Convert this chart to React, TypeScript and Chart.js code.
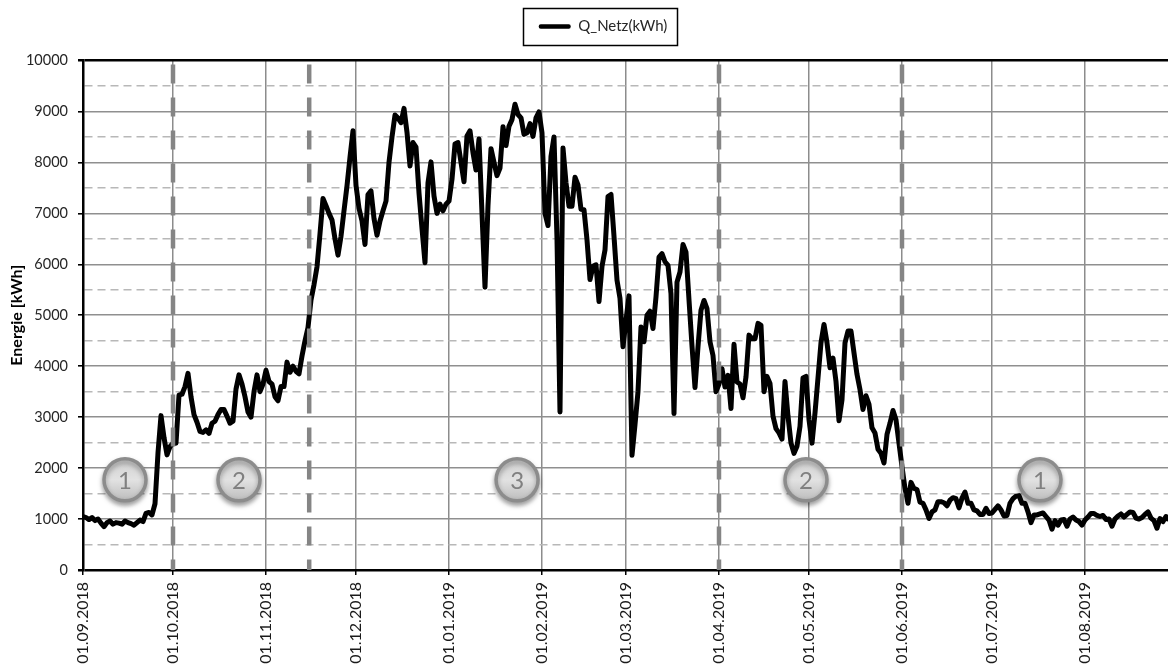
import React, { useEffect, useRef } from "react";
import { Chart, registerables } from "chart.js";

Chart.register(...registerables);

const sep = [1050,1030,990,1030,970,1000,920,850,930,960,900,930,920,900,960,930,910,880,930,980,950,1110,1130,1080,1300,2300,3030,2600,2260,2420];
const oct = [2490,2490,3430,3450,3600,3860,3400,3050,2900,2720,2700,2750,2680,2880,2920,3050,3150,3150,3020,2880,2920,3550,3830,3650,3400,3100,3000,3500,3830,3500,3650];
const nov = [3920,3700,3650,3400,3320,3600,3600,4080,3880,4000,3900,3850,4200,4500,4760,5300,5600,5950,6600,7290,7150,7000,6870,6500,6180,6550,7050,7540,8100,8620];
const dec = [7550,7100,6850,6390,7370,7440,6900,6570,6850,7050,7240,8000,8500,8930,8870,8780,9060,8590,7930,8390,8300,7400,6700,6030,7600,8010,7340,7000,7180,7050,7180];
const jan = [7240,7670,8360,8390,8000,7620,8520,8620,8190,7850,8460,7000,5550,7150,8270,8000,7740,7890,8700,8330,8710,8840,9140,8940,8875,8550,8580,8760,8510,8875,8990];
const feb = [8580,7000,6760,8120,8500,6500,3100,8285,7600,7140,7140,7710,7560,7080,7070,6480,5700,5960,5990,5270,5960,6280,7330,7370,6550,5690,5330,4380];
const mar = [4900,5380,2250,2850,3500,4770,4480,5000,5080,4740,5360,6140,6210,6050,5980,5420,3070,5650,5850,6390,6240,5300,4400,3580,4380,5100,5290,5130,4480,4210,3500];
const apr = [3650,3950,3590,3820,3170,4430,3690,3650,3380,3790,4610,4540,4540,4840,4800,3500,3800,3660,3020,2775,2690,2570,3700,3020,2490,2290,2430,2820,3770,3800];
const may = [2950,2490,3080,3770,4460,4820,4460,3970,4160,3700,2930,3340,4460,4690,4690,4260,3840,3540,3150,3420,3250,2790,2690,2370,2290,2100,2660,2880,3130,2950,2490];
const jun = [2030,1600,1310,1720,1600,1580,1330,1310,1180,1010,1140,1180,1340,1340,1320,1260,1370,1420,1400,1220,1410,1530,1310,1310,1180,1160,1090,1090,1210,1110];
const jul = [1120,1190,1260,1180,1060,1070,1310,1400,1450,1460,1310,1310,1140,930,1080,1080,1100,1120,1050,980,800,970,880,980,990,860,1000,1040,980,950,880];
const aug = [980,1040,1110,1110,1070,1050,1070,990,1000,860,1000,1060,1100,1040,1090,1140,1130,1020,1000,1030,1090,1140,1020,970,820,1010,950,1050,980];

const monthOffsets = [0, 30, 61, 91, 122, 153, 181, 212, 242, 273, 303, 334];
const monthLabels = ["01.09.2018","01.10.2018","01.11.2018","01.12.2018","01.01.2019","01.02.2019","01.03.2019","01.04.2019","01.05.2019","01.06.2019","01.07.2019","01.08.2019"];
const phaseBoundaries = [30, 75.4, 212, 273];
const badgeDays = [14, 52, 144.7, 241, 319];
const badgeValue = 1770;
const badgeTexts = ["1", "2", "3", "2", "1"];

const seriesName = "Q_Netz(kWh)";
const yTitle = "Energie [kWh]";
const FONT = "Lato";

export default function App() {
  const ref = useRef<HTMLCanvasElement>(null);

  useEffect(() => {
    document.body.style.margin = "0";
    const values = [...sep, ...oct, ...nov, ...dec, ...jan, ...feb, ...mar, ...apr, ...may, ...jun, ...jul, ...aug];
    const BADGE_R = 21;

    const helper = {
      id: "helper",
      beforeLayout(chart: any) {
        const l = chart.legend;
        if (l && !l.__patched) {
          const orig = l.fit;
          l.fit = function () {
            orig.call(this);
            this.height = 60.5;
          };
          l.__patched = true;
        }
      },
      afterLayout(chart: any) {
        const l = chart.legend;
        if (l) { l.left = 19; l.right = 1168 + 19; }
      },
      beforeDatasetDraw(chart: any, args: any) {
        if (chart.data.datasets[args.index].label === "badges") {
          const c = chart.ctx;
          c.save();
          c.shadowColor = "rgba(0,0,0,0.35)";
          c.shadowBlur = 5;
          c.shadowOffsetY = 3;
        }
      },
      afterDatasetDraw(chart: any, args: any) {
        if (chart.data.datasets[args.index].label === "badges") {
          const c = chart.ctx;
          c.restore();
          c.save();
          c.fillStyle = "#808080";
          c.font = `24px ${FONT}`;
          c.textAlign = "center";
          c.textBaseline = "middle";
          badgeDays.forEach((d, i) => {
            c.fillText(badgeTexts[i], chart.scales.x.getPixelForValue(d), chart.scales.y.getPixelForValue(badgeValue) + 1);
          });
          c.restore();
        }
      },
      afterDraw(chart: any) {
        const c = chart.ctx;
        c.save();
        c.strokeStyle = "#000";
        c.lineWidth = 1.5;
        c.strokeRect(523.5, 8.5, 154, 37);
        c.restore();
      },
    };

    const chart = new Chart(ref.current as HTMLCanvasElement, {
      type: "line",
      data: {
        datasets: [
          {
            label: seriesName,
            data: values.map((v, i) => ({ x: i, y: v })),
            borderColor: "#000",
            backgroundColor: "#000",
            borderWidth: 5,
            pointRadius: 0,
            tension: 0,
            borderJoinStyle: "round",
            order: 3,
          },
          ...phaseBoundaries.map((d) => ({
            label: "phase",
            data: [{ x: d, y: 10000 }, { x: d, y: 0 }],
            borderColor: "#858585",
            borderWidth: 4.5,
            borderDash: [19, 14],
            borderDashOffset: -4,
            pointRadius: 0,
            order: 2,
          })),
          {
            label: "badges",
            data: badgeDays.map((d) => ({ x: d, y: badgeValue })),
            showLine: false,
            pointRadius: BADGE_R,
            pointBorderWidth: 3.5,
            pointBorderColor: "#8c8c8c",
            pointBackgroundColor: (ctx: any) => {
              const yPx = ctx.chart.scales.y?.getPixelForValue(badgeValue);
              if (!Number.isFinite(yPx)) return "#d8d8d8";
              const g = ctx.chart.ctx.createLinearGradient(0, yPx - BADGE_R, 0, yPx + BADGE_R);
              g.addColorStop(0, "#d0d0d0");
              g.addColorStop(0.5, "#e2e2e2");
              g.addColorStop(1, "#bcbcbc");
              return g;
            },
            order: 1,
          },
        ],
      },
      options: {
        animation: false,
        responsive: false,
        layout: { autoPadding: false, padding: { left: 0, right: 0, top: 0, bottom: 0 } },
        plugins: {
          tooltip: { enabled: false },
          legend: {
            display: true,
            position: "top",
            labels: {
              filter: (item: any) => {
                item.lineWidth = 0;
                return item.text === seriesName;
              },
              font: { family: FONT, size: 15 },
              color: "#262626",
              boxWidth: 32,
              boxHeight: 4.5,
              padding: 19,
              useBorderRadius: true,
              borderRadius: 2,
            },
          },
        },
        scales: {
          x: {
            type: "linear",
            min: 0,
            max: 361.67,
            afterFit: (s: any) => {
              s.height = 94;
              s.paddingLeft = 0;
              s.paddingRight = 0;
            },
            afterBuildTicks: (s: any) => { s.ticks = monthOffsets.map((value) => ({ value })); },
            ticks: {
              autoSkip: false,
              minRotation: 90,
              maxRotation: 90,
              padding: 7,
              color: "#1a1a1a",
              font: { family: FONT, size: 16 },
              callback: (v: any) => monthLabels[monthOffsets.indexOf(v)] ?? "",
            },
            grid: { color: "#8c8c8c", lineWidth: 1.5, tickLength: 5, tickColor: "#000", drawOnChartArea: true },
            border: { display: false },
          },
          y: {
            type: "linear",
            min: 0,
            max: 10000,
            afterFit: (s: any) => {
              s.width = 83;
              s.paddingTop = 0;
              s.paddingBottom = 0;
            },
            ticks: {
              stepSize: 500,
              autoSkip: false,
              padding: 10,
              color: "#262626",
              font: { family: FONT, size: 14.5 },
              callback: (v: any) => (Number(v) % 1000 === 0 ? String(v) : ""),
            },
            title: {
              display: true,
              text: yTitle,
              color: "#000",
              font: { family: FONT, size: 16, weight: "bold" },
              padding: { top: 7, bottom: 0 },
            },
            grid: {
              color: (c: any) => {
                const v = c.tick?.value;
                if (v === 0 || v === 10000) return "#000";
                return v % 1000 === 0 ? "#8f8f8f" : "#b8b8b8";
              },
              lineWidth: (c: any) => {
                const v = c.tick?.value;
                if (v === 0 || v === 10000) return 2.5;
                return v % 1000 === 0 ? 1.6 : 1.4;
              },
              tickColor: (c: any) => (c.tick?.value % 1000 === 0 ? "#000" : "rgba(0,0,0,0)"),
              tickLength: 5,
            },
            border: {
              display: true,
              color: "#000",
              width: 2.5,
              dash: (c: any) => (c.tick?.value % 1000 === 0 ? [] : [8, 5]),
            },
          },
        },
      } as any,
      plugins: [helper as any],
    } as any);
    return () => chart.destroy();
  }, []);

  return (
    <div style={{ position: "absolute", left: 0, top: 0, width: 1168, height: 664, background: "#fff" }}>
      <canvas ref={ref} width={1168} height={664} style={{ display: "block" }} />
    </div>
  );
}
